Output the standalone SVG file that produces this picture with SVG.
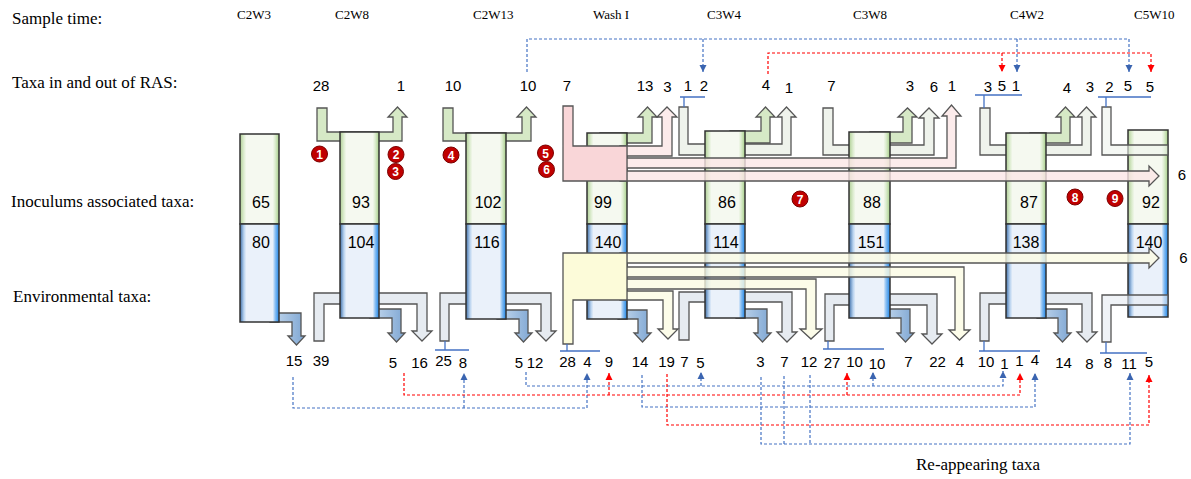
<svg xmlns="http://www.w3.org/2000/svg" width="1191" height="479" viewBox="0 0 1191 479">
<defs>
<linearGradient id="gG" x1="0" y1="0" x2="1" y2="0">
<stop offset="0" stop-color="#AFCF95"/><stop offset="0.1" stop-color="#DDEDD0"/><stop offset="0.16" stop-color="#F5F9F0"/><stop offset="0.84" stop-color="#F5F9F0"/><stop offset="0.9" stop-color="#DDEDD0"/><stop offset="1" stop-color="#A6CF88"/>
</linearGradient>
<linearGradient id="gB" x1="0" y1="0" x2="1" y2="0">
<stop offset="0" stop-color="#3F6FA8"/><stop offset="0.1" stop-color="#B7D2EF"/><stop offset="0.16" stop-color="#EAF1FA"/><stop offset="0.84" stop-color="#EAF1FA"/><stop offset="0.9" stop-color="#8CC0F2"/><stop offset="1" stop-color="#1E86E8"/>
</linearGradient>
<linearGradient id="gBA" x1="0" y1="0" x2="1" y2="0">
<stop offset="0" stop-color="#C9DCEF"/><stop offset="1" stop-color="#7EA6D3"/>
</linearGradient>
<marker id="aB" viewBox="0 0 10 10" refX="10" refY="5" markerWidth="6" markerHeight="6" orient="auto"><path d="M0,0 L10,5 L0,10 z" fill="#3A64B0"/></marker>
<marker id="aR" viewBox="0 0 10 10" refX="10" refY="5" markerWidth="6" markerHeight="6" orient="auto"><path d="M0,0 L10,5 L0,10 z" fill="#FF0000"/></marker>
</defs>
<style>
.lab{font-family:"Liberation Serif","Times New Roman",serif;font-size:17px;fill:#000}
.st{font-family:"Liberation Serif","Times New Roman",serif;font-size:13px;fill:#000}
.num{font-family:"Liberation Sans",Arial,sans-serif;font-size:15px;fill:#000;text-anchor:middle}
.cn{font-size:16px}
.mk{font-family:"Liberation Sans",Arial,sans-serif;font-size:12px;font-weight:bold;fill:#fff;text-anchor:middle}
.cg{fill:url(#gG);stroke:#333;stroke-width:1.5}
.cb{fill:url(#gB);stroke:#333;stroke-width:1.5}
.arm{stroke:#555;stroke-width:1.3;stroke-linejoin:miter}
.green{fill:#D6E9C6}
.gtop{fill:#EFF3EC}
.gbot{fill:#E6EBF1}
.barrow{fill:url(#gBA)}
.pink{fill:#FBE6E6;fill-opacity:0.8}
.pinkb{fill:#F9D6D8}
.yel{fill:#FBFBE4;fill-opacity:0.8}
.yelb{fill:#FCFBD9}
.ov{fill-opacity:0.6}
.dB{fill:none;stroke:#4472C4;stroke-width:1.2;stroke-dasharray:3 2}
.dR{fill:none;stroke:#FF0000;stroke-width:1.2;stroke-dasharray:3 2}
.br{fill:none;stroke:#4472C4;stroke-width:1.3}
.red{fill:#C00000;stroke:#7A0000;stroke-width:1}
</style>
<rect width="1191" height="479" fill="#fff"/>

<g id="row-labels">
<text class="lab" x="12" y="24">Sample time:</text>
<text class="lab" x="12" y="88">Taxa in and out of RAS:</text>
<text class="lab" x="11" y="207">Inoculums associated taxa:</text>
<text class="lab" x="13" y="302">Environmental taxa:</text>
<text class="lab" x="916" y="470">Re-appearing taxa</text>
</g>

<g id="sample-times">
<text class="st" x="237" y="19">C2W3</text>
<text class="st" x="335" y="19">C2W8</text>
<text class="st" x="473" y="19">C2W13</text>
<text class="st" x="593" y="19">Wash I</text>
<text class="st" x="707" y="19">C3W4</text>
<text class="st" x="853" y="19">C3W8</text>
<text class="st" x="1010" y="19">C4W2</text>
<text class="st" x="1134" y="19">C5W10</text>
</g>

<g id="C2W3">
<path class="arm barrow" d="M270,313 H301 V336 H305 L296.5,345 L288,336 H292 V322 H270 Z"/>
<rect class="cg" x="240" y="134" width="39" height="90"/>
<rect class="cb" x="240" y="224" width="39" height="98"/>
<text class="num cn" x="261" y="208">65</text>
<text class="num cn" x="261" y="248">80</text>
</g>

<g id="C2W8">
<path class="arm green" d="M317,108 H327 V132 H393 V117 H388 L397.5,107 L407,117 H402 V141 H317 Z"/>
<path class="arm gbot" d="M314,293 H427 V331 H432 L422,341 L412,331 H417 V304 H324 V341 H314 Z"/>
<path class="arm barrow" d="M370,309 H401 V333 H405 L396.5,342 L388,333 H392 V318 H370 Z"/>
<rect class="cg" x="340" y="132" width="39" height="92"/>
<rect class="cb" x="340" y="224" width="39" height="94"/>
<text class="num cn" x="361" y="208">93</text>
<text class="num cn" x="361" y="248">104</text>
</g>

<g id="C2W13">
<path class="arm green" d="M443,108 H453 V133 H522 V117 H517 L526.5,107 L536,117 H531 V141 H443 Z"/>
<path class="arm gbot" d="M440,293 H551 V331 H556 L546,341 L536,331 H541 V304 H449 V341 H440 Z"/>
<path class="arm barrow" d="M497,310 H528 V333 H532 L523.5,342 L515,333 H519 V319 H497 Z"/>
<rect class="cg" x="466" y="133" width="40" height="91"/>
<rect class="cb" x="466" y="224" width="40" height="95"/>
<text class="num cn" x="488" y="208">102</text>
<text class="num cn" x="487" y="248">116</text>
</g>

<g id="C3W4">
<path class="arm gtop" d="M679,107 H688 V144 H782 V117 H777 L786.5,107 L796,117 H791 V155 H679 Z"/>
<path class="arm green" d="M730,131 H761 V117 H756 L765.5,107 L775,117 H770 V143 H730 Z"/>
<path class="arm gbot" d="M679,292 H792 V332 H797 L787,342 L777,332 H782 V302 H689 V340 H679 Z"/>
<path class="arm barrow" d="M736,309 H767 V333 H771 L762.5,342 L754,333 H758 V318 H736 Z"/>
<rect class="cg" x="705" y="131" width="40" height="93"/>
<rect class="cb" x="705" y="224" width="40" height="94"/>
<text class="num cn" x="727" y="208">86</text>
<text class="num cn" x="726" y="248">114</text>
</g>

<g id="C3W8">
<path class="arm gtop" d="M823,108 H833 V145 H924 V118 H919 L929,108 L939,118 H934 V155 H823 Z"/>
<path class="arm green" d="M870,132 H903 V117 H898 L907.5,108 L917,117 H912 V143 H870 Z"/>
<path class="arm gbot" d="M825,294 H937 V334 H942 L932,344 L922,334 H927 V305 H834 V341 H825 Z"/>
<path class="arm barrow" d="M881,309 H910 V333 H914 L905.5,342 L897,333 H901 V318 H881 Z"/>
<rect class="cg" x="849" y="132" width="41" height="92"/>
<rect class="cb" x="849" y="224" width="41" height="94"/>
<text class="num cn" x="872" y="208">88</text>
<text class="num cn" x="871" y="248">151</text>
</g>

<g id="C4W2">
<path class="arm gtop" d="M980,108 H990 V145 H1082 V117 H1077 L1086.5,107 L1096,117 H1091 V155 H980 Z"/>
<path class="arm green" d="M1030,133 H1061 V117 H1056 L1065.5,107 L1075,117 H1070 V143 H1030 Z"/>
<path class="arm gbot" d="M980,293 H1092 V332 H1097 L1087,342 L1077,332 H1082 V304 H989 V341 H980 Z"/>
<path class="arm barrow" d="M1037,309 H1067 V333 H1071 L1062.5,342 L1054,333 H1058 V318 H1037 Z"/>
<rect class="cg" x="1006" y="133" width="40" height="91"/>
<rect class="cb" x="1006" y="224" width="40" height="94"/>
<text class="num cn" x="1029" y="208">87</text>
<text class="num cn" x="1026" y="248">138</text>
</g>

<g id="C5W10">
<rect class="cg" x="1128" y="130" width="40" height="94"/>
<rect class="cb" x="1128" y="224" width="40" height="93"/>
<path class="arm gtop ov" d="M1102,107 H1111 V145 H1168 V155 H1102 Z"/>
<path class="arm gbot ov" d="M1102,295 H1168 V305 H1111 V342 H1102 Z"/>
<text class="num cn" x="1151" y="208">92</text>
<text class="num cn" x="1149" y="248">140</text>
</g>

<g id="WashI">
<path class="arm green" d="M600,133 H643 V117 H638 L647.5,107 L657,117 H652 V143 H600 Z"/>
<path class="arm barrow" d="M618,310 H647 V333 H651 L642.5,342 L634,333 H638 V319 H618 Z"/>
<rect class="cg" x="587" y="133" width="40" height="91"/>
<rect class="cb" x="587" y="224" width="40" height="95"/>
<text class="num cn" x="603" y="208">99</text>
<text class="num cn" x="608" y="248">140</text>
</g>

<g id="washI-pink-flows">
<path class="arm pink" d="M620,146 H662 V117 H657 L667,107 L677,117 H672 V156 H620 Z"/>
<path class="arm pink" d="M620,158 H947 V116 H942 L951.5,105 L961,116 H956 V168 H620 Z"/>
<path class="arm pink" d="M620,171 H1149 V166 L1159,176 L1149,186 V181 H620 Z"/>
<path class="arm pinkb" d="M563,106 H573 V146 H627 V181 H563 Z"/>
</g>

<g id="washI-yellow-flows">
<path class="arm yel" d="M620,253 H1149 V248 L1159,258 L1149,268 V263 H620 Z"/>
<path class="arm yel" d="M620,267 H964 V330 H970 L959.5,340 L949,330 H955 V277 H620 Z"/>
<path class="arm yel" d="M620,279 H816 V329 H822 L811,339 L800,329 H806 V289 H620 Z"/>
<path class="arm yel" d="M620,291 H673 V329 H678 L668,339 L658,329 H663 V300 H620 Z"/>
<path class="arm yelb" d="M563,253 H627 V300 H573 V344 H563 Z"/>
</g>

<g id="markers">
<circle class="red" cx="319.5" cy="154" r="8"/><text class="mk" x="319.5" y="158.5">1</text>
<circle class="red" cx="396" cy="154.5" r="8"/><text class="mk" x="396" y="159">2</text>
<circle class="red" cx="395.5" cy="171.5" r="8"/><text class="mk" x="395.5" y="176">3</text>
<circle class="red" cx="451" cy="155" r="8"/><text class="mk" x="451" y="159.5">4</text>
<circle class="red" cx="545.5" cy="153" r="8"/><text class="mk" x="545.5" y="157.5">5</text>
<circle class="red" cx="546.5" cy="169.5" r="8"/><text class="mk" x="546.5" y="174">6</text>
<circle class="red" cx="800" cy="199" r="8"/><text class="mk" x="800" y="203.5">7</text>
<circle class="red" cx="1075" cy="197" r="8"/><text class="mk" x="1075" y="201.5">8</text>
<circle class="red" cx="1115" cy="198.5" r="8"/><text class="mk" x="1115" y="203">9</text>
</g>

<g id="top-numbers">
<text class="num" x="321" y="91">28</text>
<text class="num" x="401" y="91">1</text>
<text class="num" x="453" y="91">10</text>
<text class="num" x="528" y="91">10</text>
<text class="num" x="567" y="91">7</text>
<text class="num" x="645" y="91">13</text>
<text class="num" x="667.5" y="92">3</text>
<text class="num" x="688" y="91">1</text>
<text class="num" x="704" y="91">2</text>
<text class="num" x="766" y="90">4</text>
<text class="num" x="789" y="93">1</text>
<text class="num" x="831.5" y="91">7</text>
<text class="num" x="910" y="91">3</text>
<text class="num" x="934" y="92">6</text>
<text class="num" x="952" y="91">1</text>
<text class="num" x="988" y="92">3</text>
<text class="num" x="1002" y="91">5</text>
<text class="num" x="1016" y="91">1</text>
<text class="num" x="1067" y="93">4</text>
<text class="num" x="1090" y="92">3</text>
<text class="num" x="1109.5" y="92">2</text>
<text class="num" x="1128" y="91">5</text>
<text class="num" x="1150" y="92">5</text>
<text class="num" x="1182" y="180">6</text>
<text class="num" x="1183.5" y="263">6</text>
</g>

<g id="bottom-numbers">
<text class="num" x="294" y="366">15</text>
<text class="num" x="321" y="366">39</text>
<text class="num" x="393" y="368">5</text>
<text class="num" x="419.5" y="368">16</text>
<text class="num" x="443.5" y="366">25</text>
<text class="num" x="463" y="368">8</text>
<text class="num" x="519" y="368">5</text>
<text class="num" x="535" y="368">12</text>
<text class="num" x="567.5" y="367">28</text>
<text class="num" x="587.5" y="367">4</text>
<text class="num" x="609" y="367">9</text>
<text class="num" x="640" y="367">14</text>
<text class="num" x="666.5" y="367">19</text>
<text class="num" x="684.5" y="367">7</text>
<text class="num" x="700.5" y="368">5</text>
<text class="num" x="760.5" y="367">3</text>
<text class="num" x="784.5" y="367">7</text>
<text class="num" x="809" y="367">12</text>
<text class="num" x="832" y="368">27</text>
<text class="num" x="854.5" y="367">10</text>
<text class="num" x="877" y="369">10</text>
<text class="num" x="908.5" y="367">7</text>
<text class="num" x="937.5" y="367">22</text>
<text class="num" x="960" y="367">4</text>
<text class="num" x="986" y="367">10</text>
<text class="num" x="1004.5" y="369">1</text>
<text class="num" x="1019.5" y="366">1</text>
<text class="num" x="1035" y="365">4</text>
<text class="num" x="1063.5" y="368">14</text>
<text class="num" x="1089.5" y="369">8</text>
<text class="num" x="1108" y="368">8</text>
<text class="num" x="1129" y="369">11</text>
<text class="num" x="1149" y="367">5</text>
</g>

<g id="brackets">
<path class="br" d="M680,97 H705 M684,97 V107"/>
<path class="br" d="M975,95 H1022 M984,95 V108"/>
<path class="br" d="M1098,97 H1151 M1106,97 V107"/>
<path class="br" d="M435,350 H469 M445,341 V350"/>
<path class="br" d="M560,351 H600 M567,344 V351"/>
<path class="br" d="M823,349 H884 M828,341 V349"/>
<path class="br" d="M979,351 H1040 M984,341 V351"/>
<path class="br" d="M1100,353 H1147 M1106,342 V353"/>
</g>

<g id="connectors">
<path class="dB" d="M527,72 V39 H1129 V72" marker-end="url(#aB)"/>
<path class="dB" d="M703,39 V72" marker-end="url(#aB)"/>
<path class="dB" d="M1017,39 V72" marker-end="url(#aB)"/>
<path class="dR" d="M768,74 V53 H1151 V72" marker-end="url(#aR)"/>
<path class="dR" d="M1002,53 V72" marker-end="url(#aR)"/>

<path class="dB" d="M293,377 V408 H587 V373" marker-end="url(#aB)"/>
<path class="dB" d="M464,408 V373" marker-end="url(#aB)"/>
<path class="dR" d="M404,373 V395 H1020 V373" marker-end="url(#aR)"/>
<path class="dR" d="M609,395 V373" marker-end="url(#aR)"/>
<path class="dR" d="M847,395 V373" marker-end="url(#aR)"/>
<path class="dB" d="M526,372 V386 H1003 V371" marker-end="url(#aB)"/>
<path class="dB" d="M701,386 V372" marker-end="url(#aB)"/>
<path class="dB" d="M873,386 V372" marker-end="url(#aB)"/>
<path class="dB" d="M642,375 V407 H1035 V373" marker-end="url(#aB)"/>
<path class="dR" d="M667,374 V425 H1149 V375" marker-end="url(#aR)"/>
<path class="dB" d="M761,377 V444 H1130 V373" marker-end="url(#aB)"/>
<path class="dB" d="M784,376 V444"/>
<path class="dB" d="M810,375 V444"/>
</g>
</svg>
